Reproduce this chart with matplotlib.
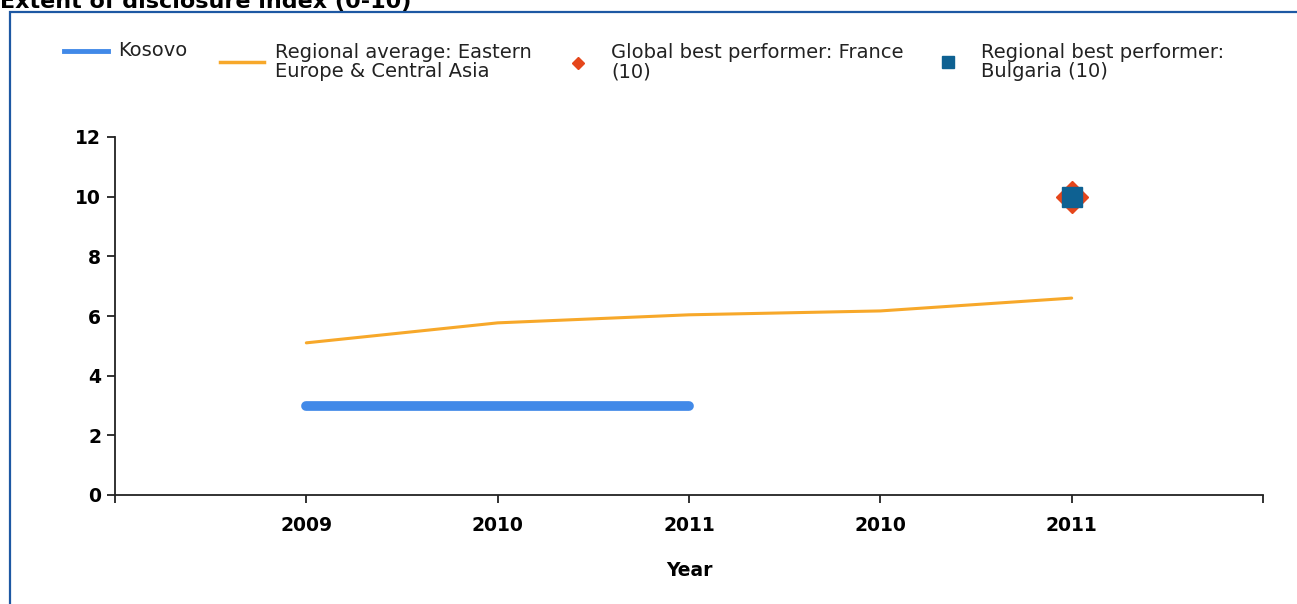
import matplotlib
matplotlib.use("Agg")
import matplotlib.pyplot as plt
from matplotlib.lines import Line2D
from matplotlib.patches import Rectangle

# ---- data ----
categories = ["2009", "2010", "2011", "2010", "2011"]
kosovo = [3, 3, 3, None, None]
regional_avg = [5.1, 5.77, 6.04, 6.17, 6.6]
global_best = [None, None, None, None, 10]
regional_best = [None, None, None, None, 10]
yticks = [0, 2, 4, 6, 8, 10, 12]

title = "Extent of disclosure index (0-10)"
labels = ["Kosovo",
          "Regional average: Eastern\nEurope & Central Asia",
          "Global best performer: France\n(10)",
          "Regional best performer:\nBulgaria (10)"]

c_kos = "#4189e8"
c_avg = "#f7a82a"
c_glob = "#e5461b"
c_reg = "#0e6192"

W, H = 1297, 604
fig = plt.figure(figsize=(W / 100, H / 100), dpi=100)

def fx(px):
    return px / W

def fy(py):
    return 1 - py / H

# border
fig.patches.append(Rectangle((fx(10), fy(700)), 2, fy(11.5) - fy(700),
                             transform=fig.transFigure, fill=False,
                             edgecolor="#1d58a3", linewidth=1.6))
fig.text(fx(0), fy(8), title, fontsize=16, fontweight="bold",
         family="DejaVu Sans", va="baseline", ha="left")

ax = fig.add_axes([fx(115), fy(495), fx(1263) - fx(115), fy(137) - fy(495)])
x = list(range(1, len(categories) + 1))

kx = [xi for xi, v in zip(x, kosovo) if v is not None]
ky = [v for v in kosovo if v is not None]
ax.plot(kx, ky, color=c_kos, linewidth=7, solid_capstyle="round", zorder=3)
ax.plot(x, regional_avg, color=c_avg, linewidth=2.2, solid_capstyle="round", zorder=3)
gx = [xi for xi, v in zip(x, global_best) if v is not None]
gy = [v for v in global_best if v is not None]
ax.plot(gx, gy, linestyle="none", marker="D", markersize=16, color=c_glob, zorder=4)
rx = [xi for xi, v in zip(x, regional_best) if v is not None]
ry = [v for v in regional_best if v is not None]
ax.plot(rx, ry, linestyle="none", marker="s", markersize=14, color=c_reg, zorder=5)

ax.set_xlim(0, len(categories) + 1)
ax.set_ylim(0, 12)
ax.set_xticks(x)
ax.set_xticklabels(categories)
ax.set_xticks([0, len(categories) + 1], minor=True)
ax.set_yticks(yticks)
for s in ["top", "right"]:
    ax.spines[s].set_visible(False)
for s in ["left", "bottom"]:
    ax.spines[s].set_linewidth(1.3)
    ax.spines[s].set_color("#222222")
ax.tick_params(axis="both", which="both", length=6, width=1.3, color="#222222",
               labelsize=13.5, pad=4)
for lab in ax.get_xticklabels() + ax.get_yticklabels():
    lab.set_fontweight("bold")
ax.tick_params(axis="x", pad=9)
ax.set_xlabel("Year", fontsize=13.5, fontweight="bold", labelpad=19)

# legend (manual)
lfont = dict(fontsize=14, family="DejaVu Sans", color="#222222", va="center",
             ha="left", linespacing=1.05)
fig.add_artist(Line2D([fx(64), fx(108)], [fy(51), fy(51)], color=c_kos,
                      linewidth=3.5, transform=fig.transFigure))
fig.text(fx(118), fy(51), labels[0], **lfont)
fig.add_artist(Line2D([fx(220), fx(264)], [fy(62), fy(62)], color=c_avg,
                      linewidth=2.5, transform=fig.transFigure))
fig.text(fx(275), fy(62), labels[1], **lfont)
fig.add_artist(Line2D([fx(578)], [fy(63)], marker="D", markersize=6.5,
                      color=c_glob, linestyle="none", transform=fig.transFigure))
fig.text(fx(611), fy(62), labels[2], **lfont)
fig.add_artist(Line2D([fx(948)], [fy(62)], marker="s", markersize=9,
                      color=c_reg, linestyle="none", transform=fig.transFigure))
fig.text(fx(981), fy(62), labels[3], **lfont)

fig.savefig("out.png", dpi=100)
